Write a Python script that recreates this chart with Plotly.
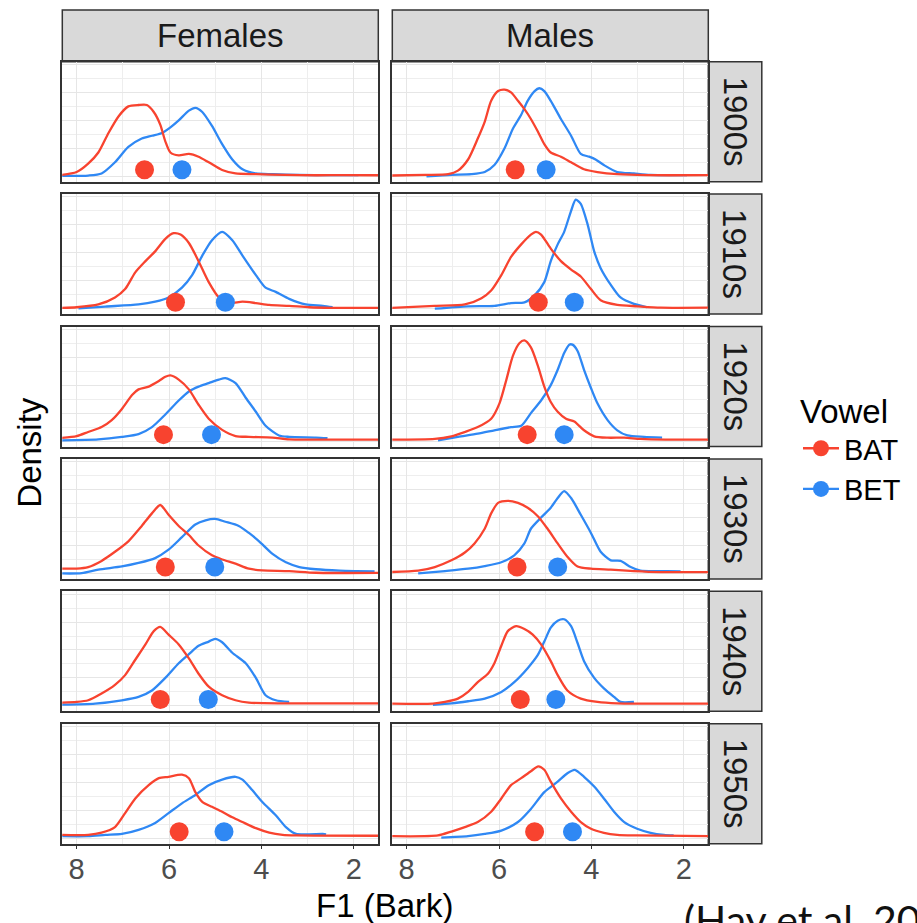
import plotly.graph_objects as go

W, H = 917, 923

decades = ["1900s", "1910s", "1920s", "1930s", "1940s", "1950s"]
groups = ["Females", "Males"]
vowels = ["BAT", "BET"]
x_ticks = [8, 6, 4, 2]

# ---- density curves (F1 in Bark, density) ----
# Females
fem_bat_1900s_f1 = [8.35, 8.00, 7.75, 7.53, 7.31, 7.09, 6.88, 6.66, 6.48, 6.33, 6.19, 6.08, 5.97, 5.79, 5.57, 5.36, 5.14, 4.85, 4.56, 4.12, 3.50, 2.80, 2.20, 1.40]
fem_bat_1900s_den = [0.008, 0.03, 0.09, 0.17, 0.31, 0.43, 0.50, 0.51, 0.51, 0.46, 0.37, 0.25, 0.17, 0.15, 0.16, 0.14, 0.10, 0.045, 0.02, 0.015, 0.01, 0.007, 0.008, 0.007]
fem_bet_1900s_f1 = [8.35, 7.75, 7.46, 7.17, 6.88, 6.59, 6.37, 6.15, 5.97, 5.79, 5.57, 5.43, 5.28, 5.07, 4.85, 4.63, 4.41, 4.12, 3.76, 3.20, 2.50, 1.90]
fem_bet_1900s_den = [0.003, 0.005, 0.02, 0.10, 0.21, 0.27, 0.29, 0.31, 0.35, 0.40, 0.47, 0.49, 0.46, 0.36, 0.23, 0.12, 0.05, 0.02, 0.015, 0.01, 0.008, 0.008]

fem_bat_1910s_f1 = [8.35, 8.00, 7.53, 7.17, 6.95, 6.73, 6.51, 6.30, 6.08, 5.90, 5.75, 5.57, 5.36, 5.14, 4.92, 4.70, 4.41, 4.12, 3.83, 3.40, 2.96, 2.50, 1.40]
fem_bat_1910s_den = [0.005, 0.01, 0.03, 0.08, 0.14, 0.26, 0.34, 0.41, 0.50, 0.54, 0.53, 0.47, 0.34, 0.19, 0.08, 0.04, 0.05, 0.04, 0.027, 0.02, 0.01, 0.006, 0.005]
fem_bet_1910s_f1 = [7.96, 7.38, 6.66, 6.30, 6.01, 5.72, 5.50, 5.28, 5.07, 4.85, 4.63, 4.41, 4.12, 3.91, 3.69, 3.40, 3.04, 2.67, 2.46]
fem_bet_1910s_den = [0.002, 0.015, 0.03, 0.05, 0.08, 0.15, 0.24, 0.38, 0.49, 0.55, 0.49, 0.38, 0.24, 0.15, 0.12, 0.07, 0.03, 0.02, 0.01]

fem_bat_1920s_f1 = [8.35, 8.00, 7.75, 7.46, 7.24, 7.02, 6.80, 6.66, 6.44, 6.22, 6.08, 5.97, 5.79, 5.57, 5.36, 5.14, 4.85, 4.56, 4.27, 3.76, 3.40, 2.50, 1.40]
fem_bat_1920s_den = [0.022, 0.035, 0.065, 0.10, 0.15, 0.23, 0.33, 0.37, 0.39, 0.43, 0.46, 0.47, 0.44, 0.37, 0.26, 0.16, 0.08, 0.036, 0.03, 0.025, 0.012, 0.01, 0.01]
fem_bet_1920s_f1 = [8.35, 7.53, 7.02, 6.66, 6.37, 6.08, 5.79, 5.57, 5.36, 5.14, 4.92, 4.78, 4.56, 4.34, 4.12, 3.91, 3.62, 3.40, 2.82, 2.57]
fem_bet_1920s_den = [0.005, 0.012, 0.03, 0.05, 0.10, 0.19, 0.29, 0.355, 0.39, 0.415, 0.44, 0.45, 0.415, 0.31, 0.21, 0.11, 0.04, 0.03, 0.025, 0.02]

fem_bat_1930s_f1 = [8.35, 8.00, 7.75, 7.46, 7.17, 6.88, 6.59, 6.37, 6.19, 6.01, 5.79, 5.57, 5.36, 5.07, 4.85, 4.56, 4.27, 3.98, 3.40, 2.82, 1.40]
fem_bat_1930s_den = [0.035, 0.035, 0.046, 0.09, 0.155, 0.23, 0.34, 0.43, 0.49, 0.42, 0.34, 0.275, 0.20, 0.13, 0.10, 0.07, 0.034, 0.022, 0.017, 0.005, 0.004]
fem_bet_1930s_f1 = [8.35, 7.89, 7.53, 7.02, 6.66, 6.30, 6.01, 5.72, 5.43, 5.21, 5.00, 4.78, 4.49, 4.27, 4.05, 3.76, 3.47, 3.18, 2.82, 2.31, 1.95, 1.55]
fem_bet_1930s_den = [0.0, 0.002, 0.027, 0.05, 0.075, 0.11, 0.17, 0.26, 0.35, 0.38, 0.39, 0.37, 0.34, 0.29, 0.23, 0.14, 0.08, 0.046, 0.03, 0.02, 0.017, 0.015]

fem_bat_1940s_f1 = [8.35, 8.00, 7.75, 7.46, 7.17, 6.95, 6.73, 6.51, 6.33, 6.19, 6.01, 5.79, 5.57, 5.36, 5.14, 4.85, 4.56, 4.27, 3.50, 1.40]
fem_bat_1940s_den = [0.023, 0.028, 0.04, 0.088, 0.15, 0.22, 0.33, 0.44, 0.535, 0.565, 0.51, 0.44, 0.34, 0.23, 0.137, 0.076, 0.04, 0.023, 0.018, 0.018]
fem_bet_1940s_f1 = [8.35, 7.60, 7.02, 6.66, 6.37, 6.08, 5.79, 5.57, 5.36, 5.14, 5.00, 4.85, 4.63, 4.34, 4.12, 3.91, 3.69, 3.40]
fem_bet_1940s_den = [0.008, 0.016, 0.04, 0.064, 0.11, 0.20, 0.305, 0.37, 0.43, 0.46, 0.48, 0.455, 0.38, 0.305, 0.20, 0.076, 0.04, 0.028]

fem_bat_1950s_f1 = [8.35, 7.75, 7.46, 7.17, 6.95, 6.73, 6.44, 6.22, 6.01, 5.72, 5.57, 5.43, 5.28, 5.07, 4.85, 4.63, 4.41, 4.12, 3.83, 3.54, 3.25, 1.40]
fem_bat_1950s_den = [0.024, 0.024, 0.04, 0.08, 0.18, 0.285, 0.38, 0.43, 0.44, 0.455, 0.43, 0.33, 0.26, 0.225, 0.19, 0.15, 0.116, 0.072, 0.04, 0.024, 0.02, 0.018]
fem_bet_1950s_f1 = [8.35, 7.75, 7.38, 7.02, 6.66, 6.30, 6.01, 5.72, 5.43, 5.14, 4.85, 4.56, 4.41, 4.20, 3.98, 3.69, 3.47, 3.25, 2.67, 2.60]
fem_bet_1950s_den = [0.015, 0.015, 0.024, 0.031, 0.06, 0.11, 0.18, 0.25, 0.31, 0.38, 0.42, 0.44, 0.42, 0.345, 0.26, 0.165, 0.08, 0.031, 0.031, 0.028]

# Males
mal_bat_1900s_f1 = [8.35, 7.60, 7.10, 6.89, 6.67, 6.46, 6.31, 6.17, 6.02, 5.88, 5.74, 5.59, 5.45, 5.31, 5.16, 5.02, 4.88, 4.66, 4.44, 4.16, 3.87, 3.44, 2.80, 1.40]
mal_bat_1900s_den = [0.005, 0.01, 0.015, 0.04, 0.12, 0.27, 0.39, 0.54, 0.61, 0.62, 0.60, 0.54, 0.48, 0.41, 0.32, 0.23, 0.17, 0.14, 0.10, 0.05, 0.03, 0.015, 0.008, 0.008]
mal_bet_1900s_f1 = [7.57, 7.03, 6.60, 6.31, 6.10, 5.88, 5.70, 5.52, 5.38, 5.23, 5.13, 5.02, 4.88, 4.66, 4.44, 4.23, 4.05, 3.91, 3.73, 3.44, 3.08, 2.72, 1.93]
mal_bet_1900s_den = [0.0, 0.01, 0.015, 0.03, 0.08, 0.20, 0.34, 0.44, 0.54, 0.61, 0.63, 0.61, 0.54, 0.41, 0.29, 0.16, 0.14, 0.12, 0.08, 0.03, 0.02, 0.01, 0.008]

mal_bat_1910s_f1 = [8.35, 7.39, 6.74, 6.38, 6.17, 5.95, 5.74, 5.52, 5.31, 5.20, 5.09, 4.88, 4.66, 4.44, 4.23, 4.01, 3.80, 3.44, 3.01, 2.50, 1.40]
mal_bat_1910s_den = [0.005, 0.02, 0.03, 0.075, 0.13, 0.24, 0.37, 0.46, 0.53, 0.55, 0.53, 0.43, 0.34, 0.28, 0.23, 0.14, 0.06, 0.027, 0.017, 0.007, 0.007]
mal_bet_1910s_f1 = [7.39, 6.67, 6.10, 5.74, 5.45, 5.23, 5.02, 4.88, 4.73, 4.59, 4.44, 4.34, 4.23, 4.08, 3.94, 3.80, 3.58, 3.37, 3.08, 2.79]
mal_bet_1910s_den = [0.0, 0.017, 0.02, 0.04, 0.045, 0.095, 0.19, 0.34, 0.46, 0.55, 0.70, 0.78, 0.75, 0.60, 0.41, 0.29, 0.17, 0.08, 0.034, 0.01]

mal_bat_1920s_f1 = [8.35, 7.39, 7.03, 6.74, 6.46, 6.17, 5.99, 5.84, 5.70, 5.56, 5.45, 5.31, 5.16, 5.02, 4.88, 4.73, 4.55, 4.37, 4.16, 3.94, 3.65, 3.29, 2.94, 2.40, 1.40]
mal_bat_1920s_den = [0.01, 0.015, 0.034, 0.065, 0.10, 0.16, 0.27, 0.44, 0.61, 0.70, 0.72, 0.67, 0.54, 0.39, 0.28, 0.21, 0.16, 0.14, 0.077, 0.034, 0.024, 0.024, 0.015, 0.01, 0.01]
mal_bet_1920s_f1 = [7.32, 6.89, 6.46, 6.10, 5.74, 5.52, 5.31, 5.09, 4.88, 4.73, 4.59, 4.48, 4.41, 4.30, 4.16, 4.01, 3.87, 3.65, 3.44, 3.22, 2.86, 2.47]
mal_bet_1920s_den = [0.005, 0.03, 0.053, 0.077, 0.10, 0.11, 0.20, 0.29, 0.40, 0.51, 0.63, 0.69, 0.69, 0.645, 0.51, 0.38, 0.27, 0.15, 0.077, 0.04, 0.03, 0.024]

mal_bat_1930s_f1 = [8.35, 7.75, 7.39, 7.03, 6.74, 6.53, 6.31, 6.17, 6.02, 5.81, 5.59, 5.38, 5.16, 4.95, 4.73, 4.52, 4.30, 4.01, 3.58, 3.08, 2.50, 1.40]
mal_bat_1930s_den = [0.01, 0.02, 0.046, 0.094, 0.15, 0.215, 0.32, 0.43, 0.505, 0.52, 0.505, 0.47, 0.41, 0.32, 0.215, 0.12, 0.05, 0.034, 0.027, 0.017, 0.01, 0.01]
mal_bet_1930s_f1 = [7.75, 7.17, 6.67, 6.31, 5.95, 5.67, 5.45, 5.31, 5.09, 4.88, 4.73, 4.59, 4.44, 4.23, 4.01, 3.80, 3.58, 3.37, 3.15, 2.94, 2.36, 2.07]
mal_bet_1930s_den = [0.0, 0.017, 0.034, 0.053, 0.08, 0.13, 0.215, 0.32, 0.40, 0.47, 0.54, 0.59, 0.54, 0.42, 0.29, 0.155, 0.094, 0.09, 0.046, 0.02, 0.017, 0.015]

mal_bat_1940s_f1 = [8.35, 7.43, 7.17, 6.89, 6.67, 6.46, 6.24, 6.10, 5.95, 5.81, 5.63, 5.45, 5.27, 5.09, 4.88, 4.73, 4.52, 4.23, 3.87, 3.44, 1.40]
mal_bat_1940s_den = [0.016, 0.016, 0.028, 0.052, 0.10, 0.17, 0.23, 0.305, 0.43, 0.535, 0.57, 0.55, 0.51, 0.44, 0.32, 0.22, 0.11, 0.052, 0.028, 0.018, 0.016]
mal_bet_1940s_f1 = [7.43, 7.03, 6.67, 6.31, 5.95, 5.67, 5.38, 5.16, 5.02, 4.88, 4.73, 4.59, 4.44, 4.30, 4.16, 3.94, 3.73, 3.51, 3.37, 3.08]
mal_bet_1940s_den = [0.008, 0.018, 0.033, 0.052, 0.10, 0.17, 0.27, 0.365, 0.46, 0.56, 0.61, 0.62, 0.57, 0.45, 0.32, 0.20, 0.125, 0.064, 0.028, 0.028]

mal_bat_1950s_f1 = [8.35, 7.32, 7.03, 6.74, 6.46, 6.17, 5.95, 5.74, 5.52, 5.31, 5.15, 5.02, 4.88, 4.66, 4.44, 4.23, 4.01, 3.73, 3.44, 3.01, 1.40]
mal_bat_1950s_den = [0.015, 0.02, 0.048, 0.08, 0.116, 0.19, 0.285, 0.38, 0.43, 0.48, 0.515, 0.49, 0.405, 0.285, 0.19, 0.116, 0.068, 0.039, 0.024, 0.02, 0.015]
mal_bet_1950s_f1 = [7.25, 6.67, 6.31, 5.95, 5.59, 5.31, 5.02, 4.73, 4.52, 4.36, 4.16, 3.94, 3.73, 3.51, 3.29, 3.01, 2.72, 2.43, 2.22]
mal_bet_1950s_den = [0.005, 0.015, 0.031, 0.055, 0.116, 0.21, 0.33, 0.405, 0.465, 0.49, 0.44, 0.37, 0.285, 0.19, 0.116, 0.068, 0.039, 0.024, 0.02]

# ---- mean F1 per decade (dots) ----
mean_bat_females = [6.53, 5.86, 6.12, 6.08, 6.19, 5.78]
mean_bet_females = [5.72, 4.78, 5.08, 5.01, 5.15, 4.81]
mean_bat_males = [5.65, 5.15, 5.39, 5.61, 5.54, 5.23]
mean_bet_males = [4.98, 4.37, 4.59, 4.73, 4.77, 4.41]
dot_level = 0.046

curves = {
    ("Females", "BAT"): [(fem_bat_1900s_f1, fem_bat_1900s_den), (fem_bat_1910s_f1, fem_bat_1910s_den),
                         (fem_bat_1920s_f1, fem_bat_1920s_den), (fem_bat_1930s_f1, fem_bat_1930s_den),
                         (fem_bat_1940s_f1, fem_bat_1940s_den), (fem_bat_1950s_f1, fem_bat_1950s_den)],
    ("Females", "BET"): [(fem_bet_1900s_f1, fem_bet_1900s_den), (fem_bet_1910s_f1, fem_bet_1910s_den),
                         (fem_bet_1920s_f1, fem_bet_1920s_den), (fem_bet_1930s_f1, fem_bet_1930s_den),
                         (fem_bet_1940s_f1, fem_bet_1940s_den), (fem_bet_1950s_f1, fem_bet_1950s_den)],
    ("Males", "BAT"): [(mal_bat_1900s_f1, mal_bat_1900s_den), (mal_bat_1910s_f1, mal_bat_1910s_den),
                       (mal_bat_1920s_f1, mal_bat_1920s_den), (mal_bat_1930s_f1, mal_bat_1930s_den),
                       (mal_bat_1940s_f1, mal_bat_1940s_den), (mal_bat_1950s_f1, mal_bat_1950s_den)],
    ("Males", "BET"): [(mal_bet_1900s_f1, mal_bet_1900s_den), (mal_bet_1910s_f1, mal_bet_1910s_den),
                       (mal_bet_1920s_f1, mal_bet_1920s_den), (mal_bet_1930s_f1, mal_bet_1930s_den),
                       (mal_bet_1940s_f1, mal_bet_1940s_den), (mal_bet_1950s_f1, mal_bet_1950s_den)],
}
means = {
    ("Females", "BAT"): mean_bat_females, ("Females", "BET"): mean_bet_females,
    ("Males", "BAT"): mean_bat_males, ("Males", "BET"): mean_bet_males,
}

colors = {"BAT": "#F8432F", "BET": "#2F88F4"}
FONT = "Liberation Sans, Arial, Helvetica, sans-serif"
BORDER = "#333333"

# ---- layout geometry (pixels) ----
col_left = [62.3, 392.3]
col_w = 316.0
row_top0 = 61.7
row_step = 132.4
row_h = 120.0
strip_top = 10.0
strip_side_w = 53.5

def px(x):
    return x / W

def py(y):
    return 1 - y / H

fig = go.Figure()

# legend entries
for v in vowels:
    fig.add_trace(go.Scatter(x=[None], y=[None], mode="lines+markers", name=v,
                             line=dict(color=colors[v], width=2.3),
                             marker=dict(color=colors[v], size=16),
                             xaxis="x", yaxis="y", showlegend=True))

for r, dec in enumerate(decades):
    for c, g in enumerate(groups):
        n = r * 2 + c + 1
        xa = "x" if n == 1 else f"x{n}"
        ya = "y" if n == 1 else f"y{n}"
        for v in ["BET", "BAT"]:
            fx, dy = curves[(g, v)][r]
            fig.add_trace(go.Scatter(x=fx, y=dy, mode="lines", xaxis=xa, yaxis=ya,
                                     line=dict(color=colors[v], width=2.3, shape="spline", smoothing=0.7),
                                     showlegend=False, hoverinfo="skip"))
        for v in vowels:
            fig.add_trace(go.Scatter(x=[means[(g, v)][r]], y=[dot_level], mode="markers",
                                     xaxis=xa, yaxis=ya,
                                     marker=dict(color=colors[v], size=19),
                                     showlegend=False, hoverinfo="skip"))

        top = row_top0 + r * row_step
        left = col_left[c]
        xkey = "xaxis" if n == 1 else f"xaxis{n}"
        ykey = "yaxis" if n == 1 else f"yaxis{n}"
        bottom_row = (r == len(decades) - 1)
        fig.layout[xkey] = dict(
            domain=[px(left), px(left + col_w)], anchor=ya,
            range=[8.31, 1.47], tickvals=x_ticks,
            showgrid=True, gridcolor="#E6E6E6", gridwidth=1.3,
            minor=dict(tickvals=[7, 5, 3], showgrid=True, gridcolor="#EEEEEE", gridwidth=1),
            showline=True, mirror=True, linecolor=BORDER, linewidth=1.5,
            zeroline=False,
            ticks="outside" if bottom_row else "", ticklen=4, tickcolor=BORDER, tickwidth=1.2,
            showticklabels=bottom_row, ticklabelstandoff=-5,
            tickfont=dict(family=FONT, size=29, color="#4D4D4D"),
        )
        fig.layout[ykey] = dict(
            domain=[py(top + row_h), py(top)], anchor=xa,
            range=[-0.039, 0.82], dtick=0.2, tick0=0,
            showgrid=True, gridcolor="#E6E6E6", gridwidth=1.3,
            minor=dict(dtick=0.1, showgrid=True, gridcolor="#EEEEEE", gridwidth=1),
            showline=True, mirror=True, linecolor=BORDER, linewidth=1.5,
            zeroline=False, ticks="", showticklabels=False,
        )

shapes = []
annotations = []
# top strips
for c, g in enumerate(groups):
    l = col_left[c]
    shapes.append(dict(type="rect", xref="paper", yref="paper",
                       x0=px(l), x1=px(l + col_w), y0=py(row_top0), y1=py(strip_top),
                       fillcolor="#D9D9D9", line=dict(color=BORDER, width=1.5), layer="below"))
    annotations.append(dict(text=g, xref="paper", yref="paper", x=px(l + col_w / 2),
                            y=py((strip_top + row_top0) / 2), showarrow=False,
                            xanchor="center", yanchor="middle",
                            font=dict(family=FONT, size=33, color="#1A1A1A")))
# side strips
sx0 = col_left[1] + col_w
for r, dec in enumerate(decades):
    top = row_top0 + r * row_step
    shapes.append(dict(type="rect", xref="paper", yref="paper",
                       x0=px(sx0), x1=px(sx0 + strip_side_w), y0=py(top + row_h), y1=py(top),
                       fillcolor="#D9D9D9", line=dict(color=BORDER, width=1.5), layer="below"))
    annotations.append(dict(text=dec, xref="paper", yref="paper", x=px(sx0 + strip_side_w / 2),
                            y=py(top + row_h / 2), showarrow=False, textangle=90,
                            xanchor="center", yanchor="middle",
                            font=dict(family=FONT, size=33, color="#1A1A1A")))

# axis titles
annotations.append(dict(text="F1 (Bark)", xref="paper", yref="paper",
                        x=px(col_left[0] + (col_left[1] + col_w - col_left[0]) / 2), y=py(905),
                        showarrow=False, xanchor="center", yanchor="middle",
                        font=dict(family=FONT, size=33, color="#000000")))
annotations.append(dict(text="Density", xref="paper", yref="paper",
                        x=px(30), y=py(row_top0 + (5 * row_step + row_h) / 2),
                        showarrow=False, textangle=-90, xanchor="center", yanchor="middle",
                        font=dict(family=FONT, size=33, color="#000000")))
# citation
annotations.append(dict(text="(Hay et al. 2015)", xref="paper", yref="paper",
                        x=px(682), y=py(893), showarrow=False, xanchor="left", yanchor="top",
                        font=dict(family="Lato, Open Sans, sans-serif", size=41, color="#111111")))

fig.update_layout(
    width=W, height=H,
    margin=dict(l=0, r=0, t=0, b=0),
    paper_bgcolor="white", plot_bgcolor="white",
    shapes=shapes, annotations=annotations,
    showlegend=True,
    legend=dict(x=px(798), y=py(380), xanchor="left", yanchor="top",
                title=dict(text="Vowel", font=dict(family=FONT, size=33, color="#000000")),
                font=dict(family=FONT, size=29, color="#000000"),
                bgcolor="rgba(0,0,0,0)", itemwidth=36, tracegroupgap=0),
)

fig.write_html("out.html", config={"displayModeBar": False},
               post_script="document.body.style.margin='0';document.body.style.padding='0';document.body.style.overflow='hidden';")
